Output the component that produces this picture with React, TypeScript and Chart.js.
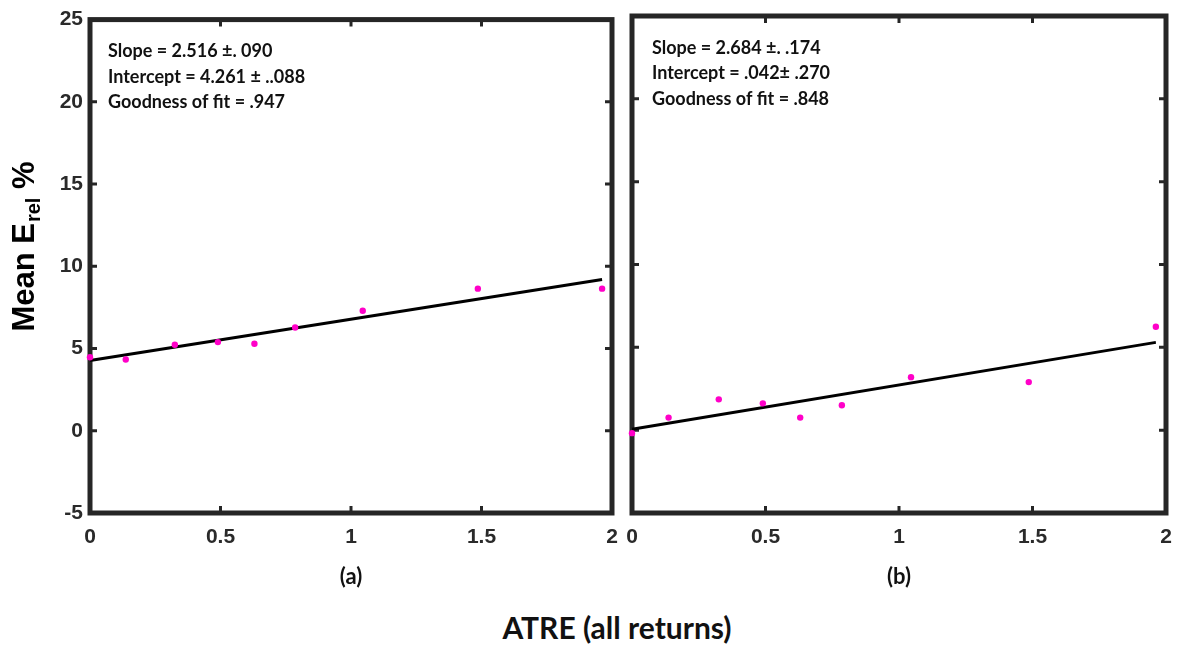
import { useEffect, useRef } from 'react';
import { Chart, registerables } from 'chart.js';

Chart.register(...registerables);

// ---- data ----
const xValues = [0, 0.137, 0.325, 0.49, 0.63, 0.786, 1.045, 1.486, 1.962];
const meanErelA = [4.47, 4.33, 5.23, 5.39, 5.29, 6.28, 7.3, 8.64, 8.64];
const meanErelB = [-0.18, 0.76, 1.86, 1.62, 0.76, 1.5, 3.2, 2.9, 6.24];
const fitX = [0, 1.962];
const fitA = [4.27, 9.2];
const fitB = [0.06, 5.3];
const yTicks = [-5, 0, 5, 10, 15, 20, 25];
const xTicks = [0, 0.5, 1, 1.5, 2];
const xTickLabels = ['0', '0.5', '1', '1.5', '2'];
const annotA = ['Slope = 2.516 \u00B1. 090', 'Intercept = 4.261 \u00B1 ..088', 'Goodness of fit = .947'];
const annotB = ['Slope = 2.684 \u00B1. .174', 'Intercept = .042\u00B1 .270', 'Goodness of fit = .848'];
const panelLabels = ['(a)', '(b)'];
const yTitleParts = ['Mean E', 'rel', ' %'];
const xTitle = 'ATRE (all returns)';

const FRAME = '#262626';
const DOT = '#ff00c8';
const TICK_FONT = { family: "'Liberation Sans', Arial, sans-serif", size: 21, weight: 'bold' as const };
const NOTE_FONT = "bold 18px Lato, 'Open Sans', sans-serif";

const framePlugin = {
  id: 'frame',
  beforeDatasetsDraw(chart: any) {
    const { ctx, chartArea: a, scales } = chart;
    ctx.save();
    ctx.strokeStyle = FRAME;
    ctx.lineWidth = 5;
    ctx.strokeRect(a.left, a.top, a.right - a.left, a.bottom - a.top);
    ctx.lineWidth = 3;
    ctx.beginPath();
    xTicks.slice(1, -1).forEach((v) => {
      const px = scales.x.getPixelForValue(v);
      ctx.moveTo(px, a.top);
      ctx.lineTo(px, a.top + 7);
      ctx.moveTo(px, a.bottom);
      ctx.lineTo(px, a.bottom - 7);
    });
    yTicks.slice(1, -1).forEach((v) => {
      const py = scales.y.getPixelForValue(v);
      ctx.moveTo(a.left, py);
      ctx.lineTo(a.left + 7, py);
      ctx.moveTo(a.right, py);
      ctx.lineTo(a.right - 7, py);
    });
    ctx.stroke();
    ctx.restore();
  },
};

const notePlugin = {
  id: 'note',
  afterDatasetsDraw(chart: any, _args: any, opts: any) {
    if (!opts || !opts.lines) return;
    const { ctx, chartArea: a } = chart;
    ctx.save();
    ctx.font = NOTE_FONT;
    ctx.fillStyle = '#111';
    ctx.textBaseline = 'middle';
    ctx.textAlign = 'left';
    opts.lines.forEach((t: string, i: number) => {
      ctx.fillText(t, a.left + opts.dx, a.top + 32 + i * 25.5);
    });
    ctx.restore();
  },
};

const yTitlePlugin = {
  id: 'ytitle',
  afterDraw(chart: any, _args: any, opts: any) {
    if (!opts || !opts.show) return;
    const { ctx } = chart;
    ctx.save();
    ctx.translate(23, 247);
    ctx.rotate(-Math.PI / 2);
    ctx.fillStyle = '#000';
    ctx.textBaseline = 'alphabetic';
    ctx.textAlign = 'left';
    const big = "bold 31px 'Liberation Sans', Arial, sans-serif";
    const small = "bold 20px 'Liberation Sans', Arial, sans-serif";
    ctx.font = big;
    const w0 = ctx.measureText(yTitleParts[0]).width;
    const w2 = ctx.measureText(yTitleParts[2]).width;
    ctx.font = small;
    const w1 = ctx.measureText(yTitleParts[1]).width;
    const total = w0 + w1 + w2;
    let x = -total / 2;
    const base = 11;
    ctx.font = big;
    ctx.fillText(yTitleParts[0], x, base);
    x += w0 + 1;
    ctx.font = small;
    ctx.fillText(yTitleParts[1], x, base + 6);
    x += w1;
    ctx.font = big;
    ctx.fillText(yTitleParts[2], x, base);
    ctx.restore();
  },
};

function makeConfig(yData: number[], fitY: number[], label: string, lines: string[], left: boolean) {
  return {
    type: 'scatter' as const,
    data: {
      datasets: [
        {
          data: xValues.map((x, i) => ({ x, y: yData[i] })),
          showLine: false,
          pointRadius: 3.2,
          pointBackgroundColor: DOT,
          pointBorderColor: DOT,
          pointBorderWidth: 0,
          clip: false as any,
        },
        {
          data: fitX.map((x, i) => ({ x, y: fitY[i] })),
          showLine: true,
          borderColor: '#000',
          borderWidth: 3,
          pointRadius: 0,
          clip: false as any,
        },
      ],
    },
    options: {
      responsive: false,
      animation: false as const,
      layout: { padding: left ? { left: 0, right: 8, top: 16, bottom: 0 } : { left: 12, right: 17, top: 16, bottom: 0 } },
      plugins: {
        legend: { display: false },
        tooltip: { enabled: false },
        note: { lines, dx: left ? 18 : 20 },
        ytitle: { show: left },
      },
      scales: {
        x: {
          type: 'linear' as const,
          min: 0,
          max: 2,
          grid: { display: false, drawTicks: true, tickLength: 12 },
          border: { display: false },
          afterBuildTicks: (s: any) => {
            s.ticks = xTicks.map((v) => ({ value: v }));
          },
          afterFit: (s: any) => {
            s.height = 87;
          },
          ticks: {
            padding: 0,
            color: '#2a2a2a',
            font: TICK_FONT,
            maxRotation: 0,
            autoSkip: false,
            callback: (_v: any, i: number) => xTickLabels[i],
          },
          title: {
            display: true,
            text: label,
            color: '#111',
            font: { family: "Lato, 'Open Sans', sans-serif", size: 22, weight: 'bold' as const },
            padding: { top: 0, bottom: 10 },
          },
        },
        y: {
          type: 'linear' as const,
          min: -5,
          max: 25,
          display: left,
          grid: { display: false, drawTicks: false },
          border: { display: false },
          afterBuildTicks: (s: any) => {
            s.ticks = yTicks.map((v) => ({ value: v }));
          },
          afterFit: (s: any) => {
            s.width = left ? 90 : 0;
          },
          ticks: {
            padding: 7,
            color: '#2a2a2a',
            font: TICK_FONT,
            callback: (v: any) => String(v),
          },
        },
      },
    },
    plugins: [framePlugin, notePlugin, yTitlePlugin],
  };
}

export default function App() {
  const refA = useRef<HTMLCanvasElement>(null);
  const refB = useRef<HTMLCanvasElement>(null);

  useEffect(() => {
    const a = new Chart(refA.current as HTMLCanvasElement, makeConfig(meanErelA, fitA, panelLabels[0], annotA, true) as any);
    const b = new Chart(refB.current as HTMLCanvasElement, makeConfig(meanErelB, fitB, panelLabels[1], annotB, false) as any);
    return () => {
      a.destroy();
      b.destroy();
    };
  }, []);

  return (
    <div style={{ position: 'absolute', left: 0, top: 0, width: 1183, height: 650, background: '#fff', overflow: 'hidden' }}>
      <canvas ref={refA} width={620} height={600} style={{ position: 'absolute', left: 0, top: 0 }} />
      <canvas ref={refB} width={563} height={600} style={{ position: 'absolute', left: 620, top: 0 }} />
      <div
        style={{
          position: 'absolute',
          left: 417,
          width: 400,
          top: 610,
          textAlign: 'center',
          fontFamily: "Lato, 'Open Sans', sans-serif",
          fontWeight: 700,
          fontSize: 30,
          lineHeight: '34px',
          color: '#111',
        }}
      >
        {xTitle}
      </div>
    </div>
  );
}
